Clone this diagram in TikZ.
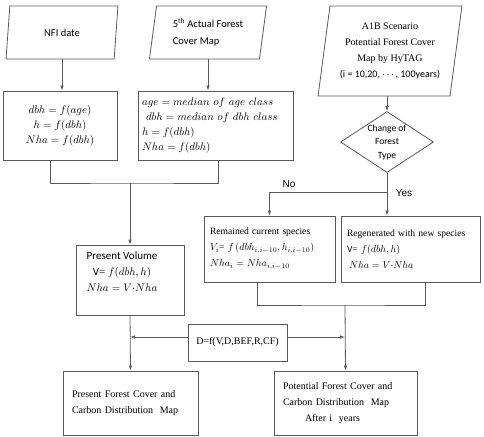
\documentclass[tikz,border=0pt]{standalone}
\usepackage{amsmath}
\usepackage{fontspec}
\setmainfont{Liberation Serif}
\newfontfamily\calibrifont{Carlito}
\newfontfamily\gulimfont{Liberation Sans}
\usepackage{tikz}
\usetikzlibrary{arrows.meta,shapes.geometric}
\usetikzlibrary{positioning,calc}
\definecolor{edgegray}{RGB}{90,90,90}
\tikzset{
    datainput/.style={trapezium, trapezium left angle=80, trapezium right angle=100,
        trapezium stretches=true, draw=edgegray, line width=0.8pt, inner sep=0pt},
    procbox/.style={rectangle, draw=edgegray, line width=0.8pt, inner ysep=0pt},
    decision/.style={diamond, draw=edgegray, line width=0.8pt, inner sep=-4pt},
    flow/.style={draw=edgegray, line width=0.8pt, -{Latex[length=5pt,width=3.5pt]}},
    joint/.style={draw=edgegray, line width=0.8pt},
}

\begin{document}
\begin{tikzpicture}[x=1pt, y=-1pt, font=\fontsize{10}{14}\selectfont]
	\useasboundingbox (0,0) rectangle (484,436);
	% inputs
	\node[datainput, minimum width=112pt, minimum height=53pt, font=\calibrifont\fontsize{10.5}{16}\selectfont] (nfi) at (62,32.5) {NFI date};
	\node[datainput, minimum width=118pt, minimum height=53pt, align=left, font=\calibrifont\fontsize{10.5}{17}\selectfont] (actual) at (208,32.5) {5\textsuperscript{th} Actual Forest\\Cover Map};
	\node[datainput, minimum width=144pt, minimum height=90pt, align=center, font=\fontsize{10}{16}\selectfont] (a1b) at (390,51) {A1B Scenario\\Potential Forest Cover\\Map by HyTAG\\{\calibrifont(i = 10,20, $\cdots$, 100years)}};
	% equations
	\node[procbox, minimum width=114pt, minimum height=69pt, align=center, font=\fontsize{11}{15}\selectfont] (eq1) at (60,125.5) {$dbh = f(age)$\\ $h = f(dbh)$\\ $Nha = f(dbh)$};
	\node[procbox, minimum height=69pt, text width=147pt, inner xsep=4pt, align=left, font=\fontsize{11}{15}\selectfont] (eq2) at (215.5,125.5) {$age = median\ of\ age\ class$\\ \hspace*{4pt}$dbh = median\ of\ dbh\ class$\\ $h = f(dbh)$\\ $Nha = f(dbh)$};
	% decision
	\node[decision, minimum width=93pt, minimum height=61pt, align=center, font=\calibrifont\fontsize{9.5}{13.5}\selectfont] (change) at (387,142) {Change of\\Forest\\Type};
	\node[font=\gulimfont\fontsize{10}{12}\selectfont] (nolab) at (289,184) {No};
	\node[font=\gulimfont\fontsize{10}{12}\selectfont] (yeslab) at (404,193) {Yes};
	% volume
	\node[procbox, minimum width=108pt, minimum height=70pt, inner xsep=0pt, font=\fontsize{11}{16}\selectfont] (volume) at (130,280) {\parbox[c][56pt][t]{92pt}{\centering{\calibrifont Present Volume}\\ {\calibrifont V}= $f(dbh,h)$\\ $Nha = V{\cdot}Nha$}\hspace*{16pt}};
	\node[procbox, minimum height=66pt, text width=119pt, inner xsep=6pt, align=left, font=\fontsize{9.6}{16}\selectfont] (remained) at (269.5,249) {Remained current species\\ $V_i$= $f\left(dbh_{i,i-10}, h_{i,i-10}\right)$\\ $Nha_i = Nha_{i,i-10}$};
	\node[procbox, minimum height=66pt, text width=127pt, inner xsep=6pt, align=left, font=\fontsize{9.6}{16}\selectfont] (regen) at (410.5,249) {Regenerated with new species\\ {\calibrifont V}= $f(dbh,h)$\\ \hspace*{2pt}$Nha = V{\cdot}Nha$};
	% carbon
	\node[procbox, minimum width=99pt, minimum height=37pt] (dbox) at (237.5,342.5) {D=f(V,D,BEF,R,CF)};
	\node[procbox, minimum height=64pt, text width=117pt, inner xsep=9pt, align=left, font=\fontsize{10}{16}\selectfont] (present) at (130.5,403) {Present Forest Cover and\\Carbon Distribution\ \ Map};
	\node[procbox, minimum height=64pt, text width=125pt, inner xsep=9pt, align=left, font=\fontsize{10}{16}\selectfont] (potential) at (345.5,403) {Potential\ Forest Cover and\\Carbon Distribution\ \ Map\\ \hspace*{22pt}After i\ \ years};

	\coordinate (join1) at (130,183);
	\coordinate (fork) at (387,192);
	\coordinate (join2) at (345,305);
	\coordinate (dwest) at ([yshift=5.5pt]dbox.west);
	\coordinate (deast) at ([yshift=5.5pt]dbox.east);

	\draw[flow] (nfi.south) -- (nfi.south |- eq1.north);
	\draw[flow] (actual.south) -- (actual.south |- eq2.north);
	\draw[flow] (change.north |- a1b.south) -- (change.north);
	\draw[joint] ([xshift=-10pt]eq1.south) |- (join1) -| ([xshift=2.5pt]eq2.south);
	\draw[flow] (join1) -- (volume.north);
	\draw[joint] (change.south) -- (fork);
	\draw[flow] (fork) -- (fork |- regen.north);
	\draw[flow] (fork) -| (remained.north);
	\draw[joint] ([xshift=-12.5pt]remained.south) |- (join2) -| ([xshift=14.5pt]regen.south);
	\draw[flow] (join2) -- (potential.north);
	\draw[flow] (volume.south) -- (present.north);
	\draw[flow] (dwest) -- (volume.south |- dwest);
	\draw[flow] (deast) -- (join2 |- deast);
\end{tikzpicture}
\end{document}
